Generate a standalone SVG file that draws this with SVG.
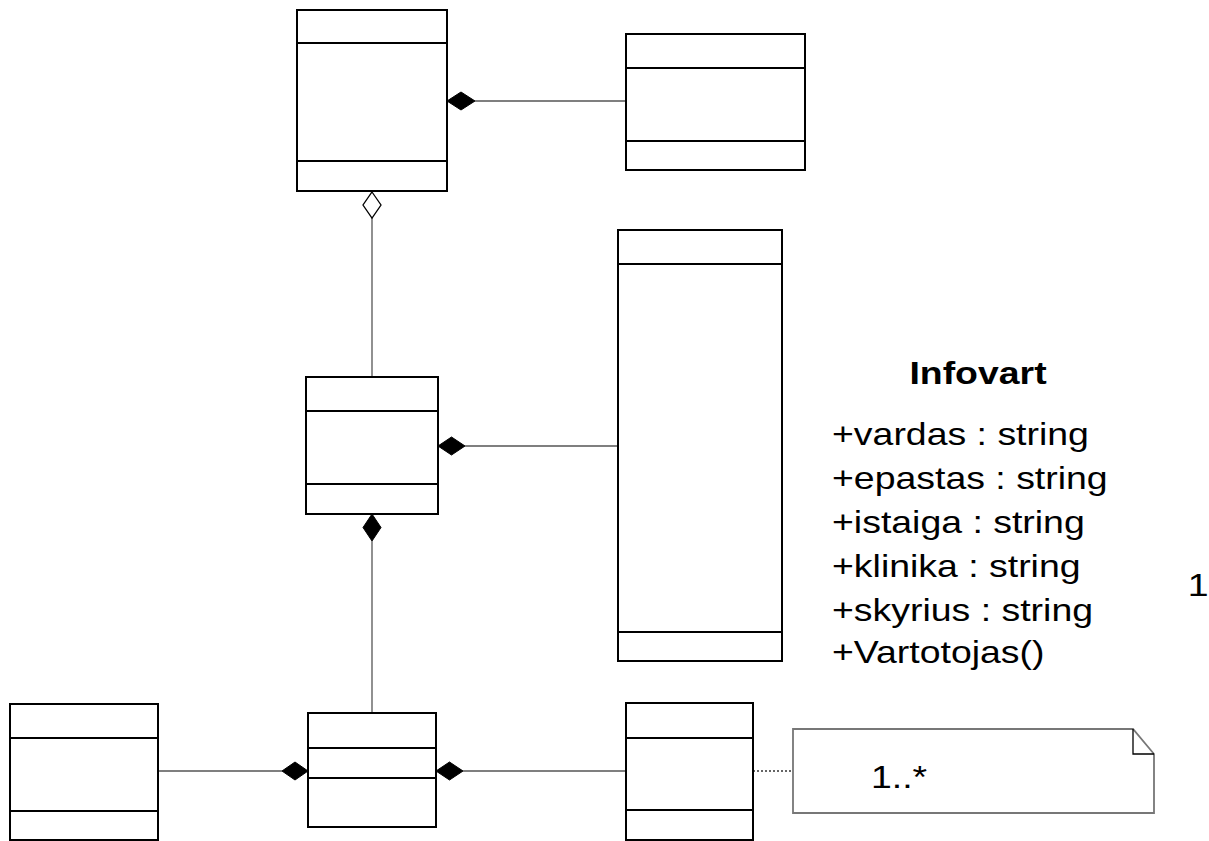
<svg xmlns="http://www.w3.org/2000/svg" width="1209" height="841" viewBox="0 0 1209 841">
  <style>
    .box { fill: #ffffff; stroke: #000000; stroke-width: 2; }
    .div { stroke: #000000; stroke-width: 2; }
    .conn { fill: none; stroke: #555555; stroke-width: 1.3; }
    .dot { fill: none; stroke: #333333; stroke-width: 1.5; stroke-dasharray: 2 2; }
    .filled { fill: #000000; stroke: #000000; stroke-width: 1; }
    .hollow { fill: #ffffff; stroke: #000000; stroke-width: 1.3; }
    .note { fill: #ffffff; stroke: #777777; stroke-width: 1.8; }
    .fold { fill: none; stroke: #000000; stroke-width: 1.3; }
    .txt { font-family: "Liberation Sans", Arial, sans-serif; font-size: 32px; fill: #000000; }
    .title { font-weight: bold; }
  </style>
  <rect width="1209" height="841" fill="#ffffff"/>

  <!-- connectors -->
  <g id="connectors">
    <line class="conn" x1="475" y1="101" x2="626" y2="101"/>
    <line class="conn" x1="372" y1="218" x2="372" y2="377"/>
    <line class="conn" x1="465" y1="446" x2="618" y2="446"/>
    <line class="conn" x1="372" y1="541" x2="372" y2="713"/>
    <line class="conn" x1="158" y1="771" x2="282" y2="771"/>
    <line class="conn" x1="463" y1="771" x2="626" y2="771"/>
    <line class="dot" x1="753" y1="771" x2="793" y2="771"/>
    <polygon class="filled" points="447,101 461,92 475,101 461,110"/>
    <polygon class="hollow" points="372,192 381,205 372,218 363,205"/>
    <polygon class="filled" points="438,446 451.5,437 465,446 451.5,455"/>
    <polygon class="filled" points="372,514 381,527.5 372,541 363,527.5"/>
    <polygon class="filled" points="308,771 295,762 282,771 295,780"/>
    <polygon class="filled" points="436,771 449.5,762 463,771 449.5,780"/>
  </g>

  <!-- class boxes -->
  <g id="classA">
    <rect class="box" x="297" y="10" width="150" height="181"/>
    <line class="div" x1="297" y1="43" x2="447" y2="43"/>
    <line class="div" x1="297" y1="161" x2="447" y2="161"/>
  </g>
  <g id="classB">
    <rect class="box" x="626" y="34" width="179" height="136"/>
    <line class="div" x1="626" y1="68" x2="805" y2="68"/>
    <line class="div" x1="626" y1="141" x2="805" y2="141"/>
  </g>
  <g id="classC">
    <rect class="box" x="306" y="377" width="132" height="137"/>
    <line class="div" x1="306" y1="411" x2="438" y2="411"/>
    <line class="div" x1="306" y1="484" x2="438" y2="484"/>
  </g>
  <g id="classE">
    <rect class="box" x="618" y="230" width="164" height="431"/>
    <line class="div" x1="618" y1="264" x2="782" y2="264"/>
    <line class="div" x1="618" y1="632" x2="782" y2="632"/>
  </g>
  <g id="classF">
    <rect class="box" x="10" y="704" width="148" height="136"/>
    <line class="div" x1="10" y1="738" x2="158" y2="738"/>
    <line class="div" x1="10" y1="811" x2="158" y2="811"/>
  </g>
  <g id="classD">
    <rect class="box" x="308" y="713" width="128" height="114"/>
    <line class="div" x1="308" y1="748" x2="436" y2="748"/>
    <line class="div" x1="308" y1="778" x2="436" y2="778"/>
  </g>
  <g id="classG">
    <rect class="box" x="626" y="703" width="127" height="137"/>
    <line class="div" x1="626" y1="738" x2="753" y2="738"/>
    <line class="div" x1="626" y1="810" x2="753" y2="810"/>
  </g>

  <!-- note -->
  <g id="note">
    <path class="note" d="M793,729 H1133 L1154,754 V813 H793 Z"/>
    <path class="fold" d="M1133,729 V754 H1154"/>
    <text class="txt" transform="translate(871 0) scale(1.17 1)" x="0" y="788">1..*</text>
  </g>

  <!-- free-standing class text (slightly widened sans face) -->
  <g id="infovart" transform="translate(832 0) scale(1.17 1)">
    <text class="txt title" x="124.8" y="384" text-anchor="middle">Infovart</text>
    <text class="txt" x="0" y="445">+vardas : string</text>
    <text class="txt" x="0" y="489">+epastas : string</text>
    <text class="txt" x="0" y="533">+istaiga : string</text>
    <text class="txt" x="0" y="577">+klinika : string</text>
    <text class="txt" x="0" y="621">+skyrius : string</text>
    <text class="txt" x="0" y="663">+Vartotojas()</text>
    <text class="txt" x="304" y="596">1</text>
  </g>
</svg>
